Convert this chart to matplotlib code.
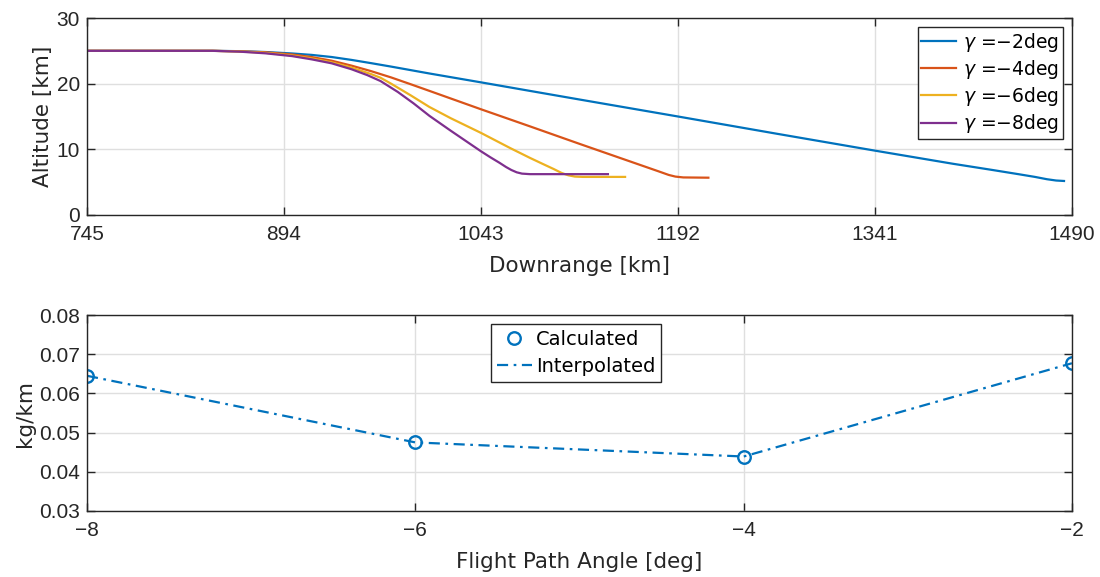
import matplotlib
matplotlib.use("Agg")
import matplotlib.pyplot as plt

# ---- trajectory data: downrange [km] vs altitude [km] ----
gamma_labels = ["$\\gamma$ =\u22122deg", "$\\gamma$ =\u22124deg",
                "$\\gamma$ =\u22126deg", "$\\gamma$ =\u22128deg"]

dr_m2 = [745, 840, 860, 880, 900, 915, 930, 945, 960, 975, 1004, 1043, 1080,
         1118, 1192, 1266, 1341, 1400, 1430, 1450, 1462, 1471, 1478, 1484]
alt_m2 = [25.0, 25.0, 24.95, 24.82, 24.6, 24.38, 24.06, 23.62, 23.12, 22.6,
          21.55, 20.2, 18.9, 17.57, 15.0, 12.4, 9.8, 7.8, 6.85, 6.2, 5.8,
          5.45, 5.25, 5.18]

dr_m4 = [745, 840, 860, 880, 900, 915, 930, 945, 960, 975, 990, 1004, 1043,
         1080, 1118, 1168, 1178, 1185, 1190, 1196, 1215]
alt_m4 = [25.0, 25.0, 24.93, 24.78, 24.45, 24.05, 23.5, 22.75, 21.9, 20.95,
          19.9, 18.9, 16.1, 13.5, 10.8, 7.3, 6.6, 6.1, 5.85, 5.72, 5.68]

dr_m6 = [745, 840, 860, 880, 900, 915, 930, 945, 960, 967, 975, 990, 1004,
         1020, 1043, 1065, 1080, 1090, 1098, 1104, 1109, 1114, 1120, 1152]
alt_m6 = [25.0, 25.0, 24.9, 24.7, 24.3, 23.85, 23.25, 22.45, 21.45, 20.9,
          20.0, 18.2, 16.45, 14.75, 12.5, 10.2, 8.7, 7.75, 7.0, 6.4, 6.05,
          5.85, 5.8, 5.8]

dr_m8 = [745, 840, 860, 880, 900, 915, 930, 945, 957, 967, 980, 992, 1004,
         1020, 1043, 1050, 1057, 1062, 1066, 1070, 1074, 1080, 1139]
alt_m8 = [25.0, 25.0, 24.88, 24.62, 24.2, 23.7, 23.1, 22.2, 21.3, 20.4,
          18.75, 17.0, 15.1, 12.85, 9.7, 8.8, 7.95, 7.3, 6.85, 6.5, 6.3,
          6.22, 6.22]

# ---- cost per km vs flight path angle ----
fpa_deg = [-8, -6, -4, -2]
kg_per_km = [0.0645, 0.0475, 0.0439, 0.0677]

x_ticks_top = [745, 894, 1043, 1192, 1341, 1490]
y_ticks_top = [0, 10, 20, 30]
x_ticks_bot = [-8, -6, -4, -2]
x_tick_labels_bot = ["\u22128", "\u22126", "\u22124", "\u22122"]
y_ticks_bot = [0.03, 0.04, 0.05, 0.06, 0.07, 0.08]
y_tick_labels_bot = ["0.03", "0.04", "0.05", "0.06", "0.07", "0.08"]

colors = ["#0072BD", "#D95319", "#EDB120", "#7E2F8E"]
axis_color = "#262626"
tick_font = "Liberation Sans"
label_font = "DejaVu Sans"

plt.rcParams["mathtext.fontset"] = "dejavusans"

fig = plt.figure(figsize=(11, 5.77), dpi=100)
ax1 = fig.add_axes([0.0791, 0.6274, 0.8954, 0.3414])
ax2 = fig.add_axes([0.0791, 0.1144, 0.8954, 0.3396])


def style_axes(ax):
    for sp in ax.spines.values():
        sp.set_color(axis_color)
        sp.set_linewidth(1.0)
    ax.tick_params(direction="in", length=6, width=1.0, colors=axis_color,
                   top=True, right=True, labelsize=15)
    ax.tick_params(axis="x", pad=7)
    ax.tick_params(axis="y", pad=5)
    for lbl in ax.get_xticklabels() + ax.get_yticklabels():
        lbl.set_fontfamily(tick_font)
        lbl.set_color(axis_color)
    ax.grid(True, color="#DFDFDF", linewidth=1.0)
    ax.set_axisbelow(True)


# top panel: altitude profiles
series = [(dr_m2, alt_m2), (dr_m4, alt_m4), (dr_m6, alt_m6), (dr_m8, alt_m8)]
for (dr, alt), c, lab in zip(series, colors, gamma_labels):
    ax1.plot(dr, alt, color=c, linewidth=1.6, label=lab)
ax1.set_xlim(745, 1490)
ax1.set_ylim(0, 30)
ax1.set_xticks(x_ticks_top)
ax1.set_yticks(y_ticks_top)
style_axes(ax1)
ax1.set_xlabel("Downrange [km]", fontfamily=label_font, fontsize=15.5,
               color=axis_color, labelpad=9)
ax1.set_ylabel("Altitude [km]", fontfamily=label_font, fontsize=15.5,
               color=axis_color, labelpad=3)
leg1 = ax1.legend(loc="upper right", prop={"family": label_font, "size": 13.5},
                  fancybox=False, edgecolor=axis_color, framealpha=1,
                  handlelength=1.85, handletextpad=0.4, labelspacing=0.22,
                  borderpad=0.18, borderaxespad=0.5)
leg1.get_frame().set_linewidth(1.0)

# bottom panel: kg/km vs flight path angle
ax2.plot(fpa_deg, kg_per_km, linestyle="none", marker="o", markersize=9,
         markerfacecolor="none", markeredgecolor=colors[0],
         markeredgewidth=1.7, label="Calculated")
ax2.plot(fpa_deg, kg_per_km, linestyle=(0, (5, 2.5, 1.2, 2.5)),
         color=colors[0], linewidth=1.6, label="Interpolated")
ax2.set_xlim(-8, -2)
ax2.set_ylim(0.03, 0.08)
ax2.set_xticks(x_ticks_bot)
ax2.set_yticks(y_ticks_bot)
ax2.set_xticklabels(x_tick_labels_bot)
ax2.set_yticklabels(y_tick_labels_bot)
style_axes(ax2)
ax2.set_xlabel("Flight Path Angle [deg]", fontfamily=label_font, fontsize=15.5,
               color=axis_color, labelpad=9)
ax2.set_ylabel("kg/km", fontfamily=label_font, fontsize=15.5,
               color=axis_color, labelpad=3)
leg2 = ax2.legend(loc="upper center", bbox_to_anchor=(0.4965, 1.0),
                  prop={"family": label_font, "size": 14},
                  fancybox=False, edgecolor=axis_color, framealpha=1,
                  handlelength=1.8, handletextpad=0.2, labelspacing=0.42,
                  borderpad=0.3, borderaxespad=0.45)
leg2.get_frame().set_linewidth(1.0)

fig.savefig("out.png", dpi=100, facecolor="white")
